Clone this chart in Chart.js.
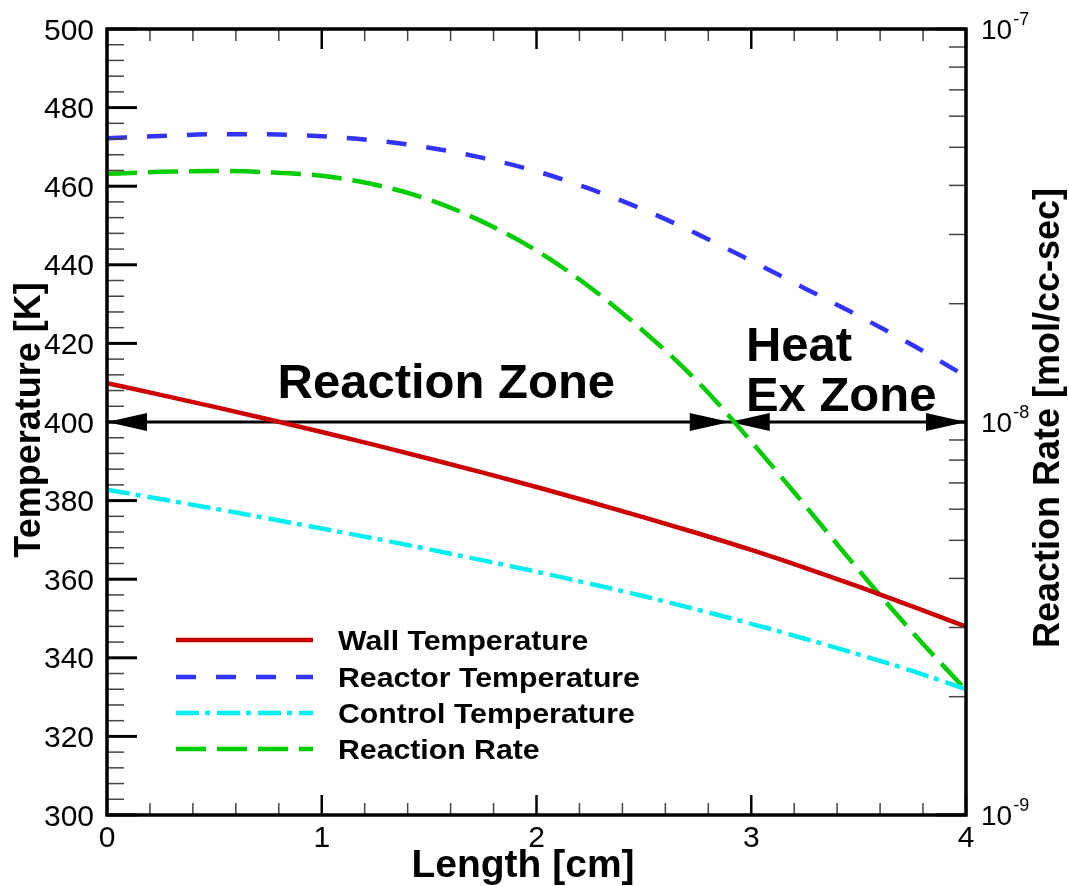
<!DOCTYPE html>
<html>
<head>
<meta charset="utf-8">
<script src="https://cdn.jsdelivr.net/npm/chart.js@4/dist/chart.umd.min.js"></script>
<style>
  html, body { margin: 0; padding: 0; background: #fff; }
  #wrap { width: 1069px; height: 886px; position: relative; }
</style>
</head>
<body>
<div id="wrap"><canvas id="c" width="1069" height="886"></canvas></div>
<script>
// ---- data ----
const lengthCm     = [0, 0.25, 0.5, 0.75, 1, 1.25, 1.5, 1.75, 2, 2.25, 2.5, 2.75, 3, 3.25, 3.5, 3.75, 4];
const wallTemp     = [409.9, 406.9, 403.85, 400.7, 397.45, 394.1, 390.65, 387.1, 383.45, 379.65, 375.75, 371.7, 367.45, 362.9, 358.1, 353.1, 347.9];
const reactorTemp  = [472.2, 472.8, 473.2, 473.2, 472.7, 471.6, 469.8, 467.2, 463.8, 459.3, 454.0, 447.8, 441.0, 434.0, 427.0, 419.6, 411.6];
const controlTemp  = [382.8, 380.4, 377.95, 375.45, 372.9, 370.3, 367.6, 364.8, 361.9, 358.85, 355.65, 352.25, 348.65, 344.85, 340.85, 336.65, 332.0];
const reactionRate = [4.28e-8, 4.33e-8, 4.355e-8, 4.32e-8, 4.23e-8, 4.015e-8, 3.68e-8, 3.23e-8, 2.73e-8, 2.20e-8, 1.70e-8, 1.267e-8, 8.92e-9, 6.14e-9, 4.20e-9, 2.92e-9, 2.08e-9];

const seriesNames  = ['Wall Temperature', 'Reactor Temperature', 'Control Temperature', 'Reaction Rate'];
const tempTicks    = [300, 320, 340, 360, 380, 400, 420, 440, 460, 480, 500];
const lengthTicks  = [0, 1, 2, 3, 4];
const rateTicks    = [1e-9, 1e-8, 1e-7];
const rateTickExp  = ['-9', '-8', '-7'];
const zoneArrowTemp = 400;
const zoneSplitCm   = 2.9;
const zoneLabels    = [
  { text: 'Reaction Zone', x: 1.58, y: 406.0, align: 'center' },
  { text: 'Heat',          x: 2.975, y: 415.4, align: 'left' },
  { text: 'Ex Zone',       x: 2.975, y: 402.8, align: 'left' }
];

const pts = ys => lengthCm.map((x, i) => ({ x: x, y: ys[i] }));

const FONT = '"Liberation Sans", Arial, Helvetica, sans-serif';

const decorations = {
  id: 'decorations',
  beforeDatasetsDraw(chart) {
    const ctx = chart.ctx, xs = chart.scales.x, ys = chart.scales.y;
    const yy = ys.getPixelForValue(zoneArrowTemp);
    const x0 = xs.getPixelForValue(0), xm = xs.getPixelForValue(zoneSplitCm), x1 = xs.getPixelForValue(4);
    ctx.save();
    ctx.strokeStyle = '#000'; ctx.fillStyle = '#000'; ctx.lineWidth = 3;
    ctx.beginPath(); ctx.moveTo(x0, yy); ctx.lineTo(x1, yy); ctx.stroke();
    const head = (tip, dir) => {
      ctx.beginPath();
      ctx.moveTo(tip, yy);
      ctx.lineTo(tip - dir * 40, yy - 9);
      ctx.lineTo(tip - dir * 40, yy + 9);
      ctx.closePath(); ctx.fill();
    };
    head(x0, -1); head(xm, 1); head(xm, -1); head(x1, 1);
    ctx.font = 'bold 49px ' + FONT;
    ctx.textBaseline = 'alphabetic';
    zoneLabels.forEach(l => {
      ctx.textAlign = l.align;
      ctx.fillText(l.text, xs.getPixelForValue(l.x), ys.getPixelForValue(l.y));
    });
    ctx.restore();
  },
  afterDatasetsDraw(chart) {
    const ctx = chart.ctx, xs = chart.scales.x, ys = chart.scales.y, yr = chart.scales.y1;
    const a = chart.chartArea;
    ctx.save();
    const seg = (xA, yA, xB, yB, w, c) => {
      ctx.beginPath(); ctx.lineWidth = w; ctx.strokeStyle = c;
      ctx.moveTo(xA, yA); ctx.lineTo(xB, yB); ctx.stroke();
    };
    // left temperature ticks
    for (let t = 300; t <= 500; t += 4) {
      const p = ys.getPixelForValue(t);
      if (tempTicks.includes(t)) seg(a.left, p, a.left + 30, p, 3, '#000');
      else seg(a.left, p, a.left + 17, p, 1.5, '#444');
    }
    // right log ticks
    for (let d = -9; d <= -8; d++) {
      for (let k = 2; k <= 9; k++) {
        const p = yr.getPixelForValue(k * Math.pow(10, d));
        seg(a.right, p, a.right - 17, p, 1.5, '#444');
      }
    }
    rateTicks.forEach(v => { const p = yr.getPixelForValue(v); seg(a.right, p, a.right - 30, p, 3, '#000'); });
    // bottom / top length ticks
    for (let i = 0; i <= 20; i++) {
      const v = i * 0.2, p = xs.getPixelForValue(v);
      if (i % 5 === 0) {
        seg(p, a.bottom, p, a.bottom - 20, 2.5, '#000');
        seg(p, a.top, p, a.top + 20, 2.5, '#000');
      } else {
        seg(p, a.bottom, p, a.bottom - 12, 1.5, '#444');
        seg(p, a.top, p, a.top + 12, 1.5, '#444');
      }
    }
    // frame
    ctx.lineWidth = 3.5; ctx.strokeStyle = '#000';
    ctx.strokeRect(a.left, a.top, a.right - a.left, a.bottom - a.top);

    // tick labels
    ctx.fillStyle = '#000';
    ctx.font = '30px ' + FONT;
    ctx.textBaseline = 'alphabetic';
    ctx.textAlign = 'right';
    tempTicks.forEach(t => ctx.fillText(String(t), 94, ys.getPixelForValue(t) + 10.5));
    ctx.textAlign = 'center';
    lengthTicks.forEach(v => ctx.fillText(String(v), xs.getPixelForValue(v), 847));
    rateTicks.forEach((v, i) => {
      const p = yr.getPixelForValue(v);
      ctx.textAlign = 'left';
      ctx.font = '28px ' + FONT;
      ctx.fillText('10', 981, p + 10);
      const w = ctx.measureText('10').width;
      ctx.font = '18px ' + FONT;
      ctx.fillText(rateTickExp[i], 981 + w + 1, p - 4);
    });

    // axis titles
    ctx.font = 'bold 39px ' + FONT;
    ctx.textAlign = 'center'; ctx.textBaseline = 'middle';
    ctx.fillText('Length [cm]', 523, 866);
    ctx.font = 'bold 36px ' + FONT;
    ctx.save(); ctx.translate(30, 420); ctx.rotate(-Math.PI / 2);
    ctx.fillText('Temperature [K]', 0, 0); ctx.restore();
    ctx.save(); ctx.translate(1049, 418); ctx.rotate(-Math.PI / 2);
    ctx.fillText('Reaction Rate [mol/cc-sec]', 0, 0); ctx.restore();

    // legend
    const ds = chart.data.datasets;
    const rows = [640, 677, 713, 749];
    ds.forEach((d, i) => {
      ctx.beginPath();
      ctx.setLineDash(d.borderDash || []);
      ctx.lineWidth = d.borderWidth; ctx.strokeStyle = d.borderColor;
      ctx.moveTo(176, rows[i]); ctx.lineTo(313, rows[i]); ctx.stroke();
      ctx.setLineDash([]);
      ctx.save();
      ctx.font = 'bold 28px ' + FONT;
      ctx.textAlign = 'left'; ctx.textBaseline = 'alphabetic';
      ctx.translate(338, rows[i] + 10); ctx.scale(1.08, 1);
      ctx.fillText(d.label, 0, 0);
      ctx.restore();
    });
    ctx.restore();
  }
};

new Chart(document.getElementById('c'), {
  type: 'line',
  data: {
    datasets: [
      { label: seriesNames[0], data: pts(wallTemp), yAxisID: 'y', borderColor: '#cc0000', borderWidth: 4.5 },
      { label: seriesNames[1], data: pts(reactorTemp), yAxisID: 'y', borderColor: '#3333ff', borderWidth: 4.5, borderDash: [20, 20] },
      { label: seriesNames[2], data: pts(controlTemp), yAxisID: 'y', borderColor: '#00eeee', borderWidth: 4.5, borderDash: [23, 6, 5, 7] },
      { label: seriesNames[3], data: pts(reactionRate), yAxisID: 'y1', borderColor: '#00cc00', borderWidth: 4.5, borderDash: [30, 11] }
    ]
  },
  options: {
    responsive: false,
    animation: false,
    events: [],
    layout: { padding: { left: 107, right: 103, top: 29, bottom: 71 } },
    elements: { point: { radius: 0 }, line: { cubicInterpolationMode: 'monotone', fill: false } },
    plugins: { legend: { display: false }, tooltip: { enabled: false } },
    scales: {
      x: {
        type: 'linear', min: 0, max: 4,
        grid: { display: false }, border: { display: false }, ticks: { display: false },
        afterFit: s => { s.height = 0; }
      },
      y: {
        type: 'linear', position: 'left', min: 300, max: 500,
        grid: { display: false }, border: { display: false }, ticks: { display: false },
        afterFit: s => { s.width = 0; }
      },
      y1: {
        type: 'logarithmic', position: 'right', min: 1e-9, max: 1e-7,
        grid: { display: false }, border: { display: false }, ticks: { display: false },
        afterFit: s => { s.width = 0; }
      }
    }
  },
  plugins: [decorations]
});
</script>
</body>
</html>
